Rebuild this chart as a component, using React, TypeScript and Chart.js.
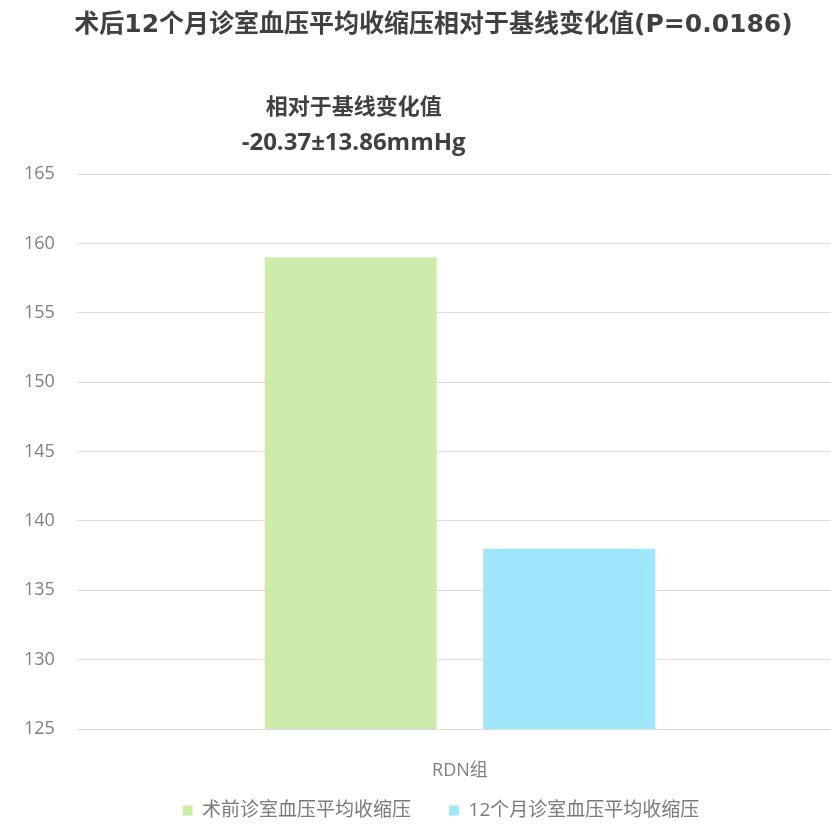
import { useEffect, useRef } from 'react';
import Chart from 'chart.js/auto';

const categories = ['RDN组'];
const seriesNames = ['术前诊室血压平均收缩压', '12个月诊室血压平均收缩压'];
const baselineValues = [159];
const month12Values = [138];
const yMin = 125;
const yMax = 165;
const yStep = 5;
const titleText = '术后12个月诊室血压平均收缩压相对于基线变化值(P=0.0186)';
const noteLines = ['相对于基线变化值', '-20.37±13.86mmHg'];

const C = {
  green: '#CDECA9',
  blue: '#9FE7FB',
  title: '#404040',
  tick: '#7f7f7f',
  legend: '#7a7a7a',
  grid: '#dcdcdc'
};

const FONT = '"Open Sans", "Noto Sans CJK SC", sans-serif';
const TITLE_FONT = '"DejaVu Sans", "Noto Sans CJK SC", sans-serif';

const nudge = (box: any, dx: number) => {
  if (!box) return;
  box.left += dx;
  box.right += dx;
};

// layout tweaks + text over the first bar
const notePlugin = {
  id: 'note',
  afterLayout(chart: any) {
    // let the category label spill below its box (it is clipped to it)
    const x = chart.scales.x;
    if (x) x.bottom = x.top + 50;
    nudge(chart.titleBlock, 11);
    nudge(chart.legend, -19);
  },
  afterDatasetsDraw(chart: any) {
    const bar = chart.getDatasetMeta(0).data[0];
    if (!bar) return;
    const { ctx, chartArea } = chart;
    ctx.save();
    ctx.fillStyle = C.title;
    ctx.textAlign = 'center';
    ctx.textBaseline = 'middle';
    ctx.font = 'bold 22px ' + FONT;
    ctx.fillText(noteLines[0], bar.x + 3, chartArea.top - 66);
    ctx.font = 'bold 24px ' + FONT;
    ctx.fillText(noteLines[1], bar.x + 3, chartArea.top - 31);
    ctx.restore();
  }
};

export default function App() {
  const canvasRef = useRef<HTMLCanvasElement | null>(null);

  useEffect(() => {
    let chart: Chart | null = null;
    if (canvasRef.current) {
      chart = new Chart(canvasRef.current, {
        type: 'bar',
        data: {
          labels: categories,
          datasets: [
            {
              label: seriesNames[0],
              data: baselineValues,
              backgroundColor: C.green,
              categoryPercentage: 0.5705,
              barPercentage: 0.787
            },
            {
              label: seriesNames[1],
              data: month12Values,
              backgroundColor: C.blue,
              categoryPercentage: 0.5705,
              barPercentage: 0.787
            }
          ]
        },
        options: {
          animation: false,
          responsive: true,
          maintainAspectRatio: false,
          layout: {
            padding: { left: 2, right: 17, top: 0, bottom: 0 }
          },
          plugins: {
            title: {
              display: true,
              text: titleText,
              color: C.title,
              font: { family: TITLE_FONT, size: 25, weight: 'bold' },
              padding: { top: 10, bottom: 134 }
            },
            legend: {
              position: 'bottom',
              fullSize: false,
              labels: {
                boxWidth: 10,
                boxHeight: 10,
                padding: 38,
                color: C.legend,
                font: { family: FONT, size: 19 }
              }
            },
            tooltip: { enabled: false }
          },
          scales: {
            x: {
              grid: { display: false },
              border: { display: false },
              ticks: {
                color: C.tick,
                padding: 23,
                font: { family: FONT, size: 18 }
              },
              afterFit: (scale: any) => {
                scale.height = 34;
              }
            },
            y: {
              min: yMin,
              max: yMax,
              grid: { color: C.grid, drawTicks: false },
              border: { display: false },
              ticks: {
                stepSize: yStep,
                color: C.tick,
                padding: 22,
                font: { family: FONT, size: 18 }
              }
            }
          }
        },
        plugins: [notePlugin]
      });
    }
    return () => {
      if (chart) chart.destroy();
    };
  }, []);

  return (
    <div style={{ position: 'absolute', left: 0, top: 0, width: 831, height: 830, overflow: 'hidden', background: '#fff' }}>
      <div style={{ position: 'relative', width: 860, height: 830 }}>
        <canvas ref={canvasRef}></canvas>
      </div>
    </div>
  );
}
